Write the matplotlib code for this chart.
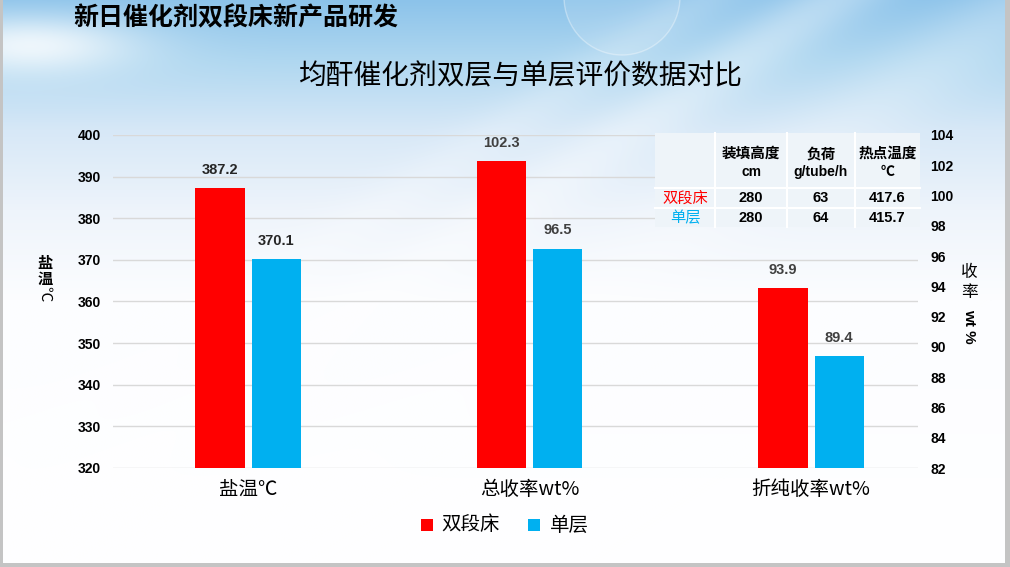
import numpy as np
import matplotlib
matplotlib.use("Agg")
import matplotlib.pyplot as plt
from matplotlib.patches import Rectangle, Circle

plt.rcParams['font.family'] = ['Noto Sans CJK SC', 'DejaVu Sans']

# ---------------- data ----------------
categories = ['盐温℃', '总收率wt%', '折纯收率wt%']
series_names = ['双段床', '单层']
double_bed = [387.2, 102.3, 93.9]
single_layer = [370.1, 96.5, 89.4]
uses_right_axis = [False, True, True]
left_ticks = [320, 330, 340, 350, 360, 370, 380, 390, 400]
right_ticks = [82, 84, 86, 88, 90, 92, 94, 96, 98, 100, 102, 104]

table_header = [['', '装填高度', '负荷', '热点温度'], ['', 'cm', 'g/tube/h', '℃']]
table_rows = [['双段床', '280', '63', '417.6'],
              ['单层', '280', '64', '415.7']]

main_title = '新日催化剂双段床新产品研发'
chart_title = '均酐催化剂双层与单层评价数据对比'

RED = '#ff0000'
BLUE = '#00b0f0'
W, H = 1010, 567

fig = plt.figure(figsize=(W / 100, H / 100), dpi=100)

# ---------------- background ----------------
bg = fig.add_axes([0, 0, 1, 1], zorder=-10)
yy, xx = np.mgrid[0:H, 0:W].astype(float)
ys = [0, 60, 130, 210, 300, H]
cr = [140, 175, 215, 238, 252, 255]
cg = [195, 215, 232, 244, 253, 255]
cb = [234, 240, 247, 251, 255, 255]
img = np.zeros((H, W, 3))
img[..., 0] = np.interp(yy, ys, cr)
img[..., 1] = np.interp(yy, ys, cg)
img[..., 2] = np.interp(yy, ys, cb)
# diagonal light streaks
for (x0, y0, x1, y1, wd, a) in [(830, 0, 430, 260, 30, 0.35), (1000, 20, 640, 260, 40, 0.25),
                                 (700, 0, 300, 260, 25, 0.2)]:
    dx, dy = x1 - x0, y1 - y0
    L = np.hypot(dx, dy)
    d = np.abs((xx - x0) * dy - (yy - y0) * dx) / L
    al = a * np.exp(-(d / wd) ** 2)
    img = img * (1 - al[..., None]) + 255 * al[..., None]
# top-left cloud
al = 0.8 * np.exp(-(((xx - 30) / 110) ** 2 + ((yy - 45) / 30) ** 2))
img = img * (1 - al[..., None]) + 255 * al[..., None]
bg.imshow(np.clip(img, 0, 255).astype(np.uint8), extent=[0, W, H, 0], aspect='auto')
bg.set_xlim(0, W)
bg.set_ylim(H, 0)
bg.axis('off')
bg.add_patch(Circle((622, -3), 58, facecolor=(1, 1, 1, 0.12), edgecolor=(1, 1, 1, 0.35), lw=1))
# border strips
bg.add_patch(Rectangle((0, 0), 3, H, color='#c4c4c4', lw=0))
bg.add_patch(Rectangle((1005, 0), 5, H, color='#c4c4c4', lw=0))
bg.add_patch(Rectangle((0, 563), W, 4, color='#c4c4c4', lw=0))

# ---------------- chart ----------------
left_px, right_px, top_px, bot_px = 113, 918, 135, 468
ax = fig.add_axes([left_px / W, 1 - bot_px / H, (right_px - left_px) / W, (bot_px - top_px) / H])
ax.patch.set_alpha(0)
ax2 = ax.twinx()
ax2.patch.set_alpha(0)

x = np.arange(len(categories))
bw = 0.175
off = 0.1
for i, cat in enumerate(categories):
    a = ax2 if uses_right_axis[i] else ax
    lc = '#404040' if uses_right_axis[i] else '#262626'
    for v, o, c in [(double_bed[i], -off, RED), (single_layer[i], off, BLUE)]:
        a.bar(x[i] + o, v, width=bw, color=c, zorder=3)
        a.annotate(f'{v:.1f}', (x[i] + o, v), xytext=(0, 8), textcoords='offset points',
                   ha='center', va='bottom', fontsize=10.5, fontweight='bold',
                   family='Liberation Sans', color=lc)

ax.set_xlim(-0.48, 2.38)
ax.set_ylim(320, 400)
ax.set_yticks(left_ticks)
ax2.set_ylim(82, 104)
ax2.set_yticks(right_ticks)
ax.grid(axis='y', color='#d9d9d9', lw=1, zorder=0)
ax.set_axisbelow(True)
for a in (ax, ax2):
    for s in a.spines.values():
        s.set_visible(False)
    a.tick_params(length=0)
for lab in ax.get_yticklabels() + ax2.get_yticklabels():
    lab.set_fontfamily('Liberation Sans')
    lab.set_fontweight('bold')
    lab.set_fontsize(10)
ax.tick_params(axis='y', pad=9)
ax2.tick_params(axis='y', pad=9)
ax.set_xticks(x, categories, fontsize=14)
ax.tick_params(axis='x', pad=8)

# ---------------- overlay: titles, labels, legend, table ----------------
ov = fig.add_axes([0, 0, 1, 1], zorder=10)
ov.set_xlim(0, W)
ov.set_ylim(H, 0)
ov.axis('off')
ov.patch.set_alpha(0)

ov.text(73, 18, main_title, fontsize=18, fontweight='bold', ha='left', va='center', color='black')
ov.text(521, 76, chart_title, fontsize=20, ha='center', va='center', color='black')

# left axis label (stacked)
ov.text(45, 263, '盐', fontsize=11, ha='center', va='center', fontweight='bold')
ov.text(45, 279, '温', fontsize=11, ha='center', va='center', fontweight='bold')
ov.text(45, 294, '℃', fontsize=11, ha='center', va='center', rotation=-90)
# right axis label
ov.text(969, 273, '收', fontsize=12, ha='center', va='center')
ov.text(969, 292, '率', fontsize=12, ha='center', va='center')
ov.text(969, 326, 'wt %', fontsize=11, ha='center', va='center', rotation=-90,
        fontweight='bold', family='Liberation Sans')

# legend
ov.add_patch(Rectangle((421, 519), 12, 12, color=RED, lw=0))
ov.text(441, 525, series_names[0], fontsize=14, ha='left', va='center')
ov.add_patch(Rectangle((528, 519), 12, 12, color=BLUE, lw=0))
ov.text(550, 525, series_names[1], fontsize=14, ha='left', va='center')

# table
col_edges = [655, 715, 787, 855, 920]
row_edges = [133, 188, 208, 227]
ov.add_patch(Rectangle((col_edges[0], row_edges[0]), col_edges[-1] - col_edges[0],
                       row_edges[-1] - row_edges[0], facecolor='#eef4f9', edgecolor='none', zorder=1))
for cx in col_edges[1:-1]:
    ov.plot([cx, cx], [row_edges[0], row_edges[-1]], color='white', lw=1.5, zorder=2)
for ry in row_edges[1:-1]:
    ov.plot([col_edges[0], col_edges[-1]], [ry, ry], color='white', lw=1.5, zorder=2)
centers = [(col_edges[j] + col_edges[j + 1]) / 2 for j in range(4)]
for j in range(1, 4):
    ov.text(centers[j], 153, table_header[0][j], fontsize=10.5, fontweight='bold', ha='center', va='center', zorder=3)
    ov.text(centers[j], 172, table_header[1][j], fontsize=10, fontweight='bold', ha='center', va='center',
            family=['Liberation Sans', 'Noto Sans CJK SC'], zorder=3)
row_y = [198, 218]
row_colors = [RED, BLUE]
for r, row in enumerate(table_rows):
    ov.text(centers[0], row_y[r], row[0], fontsize=11, color=row_colors[r], ha='center', va='center', zorder=3)
    for j in range(1, 4):
        ov.text(centers[j], row_y[r], row[j], fontsize=10.5, fontweight='bold', ha='center', va='center',
                family='Liberation Sans', zorder=3)

fig.savefig('out.png', dpi=100)
